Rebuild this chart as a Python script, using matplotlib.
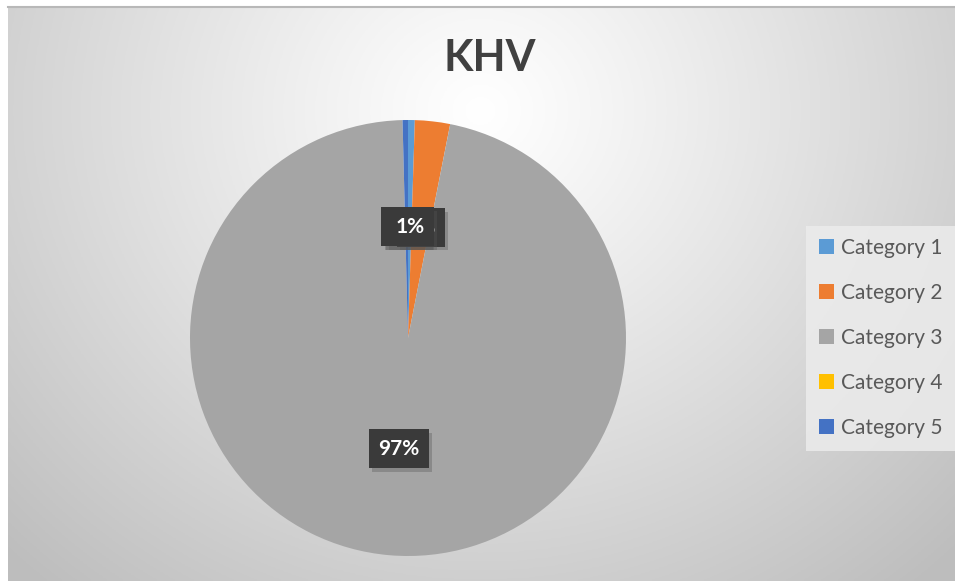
import numpy as np
import matplotlib
matplotlib.use("Agg")
import matplotlib.pyplot as plt
import matplotlib.patheffects as pe
from matplotlib.patches import Patch

title = "KHV"
categories = ["Category 1", "Category 2", "Category 3", "Category 4", "Category 5"]
values = [0.5, 2.6, 96.5, 0.0, 0.4]
colors = ["#5B9BD5", "#ED7D31", "#A5A5A5", "#FFC000", "#4472C4"]

W, H = 955, 581
fig = plt.figure(figsize=(W / 100, H / 100), dpi=100)
fig.patch.set_facecolor("white")

# background gradient panel
x0, y0 = 8, 7  # left / top white margin (px)
bg = fig.add_axes([x0 / W, 0, 1 - x0 / W, 1 - y0 / H])
bg.set_axis_off()
nx, ny = 300, 200
xx, yy = np.meshgrid(np.linspace(x0, W, nx), np.linspace(y0, H, ny))
cx, cy = 480, 110
d = np.sqrt(((xx - cx) / 560) ** 2 + ((yy - cy) / 520) ** 2)
g = 1.0 - 0.21 * np.clip(d, 0, 1.2) ** 1.1
img = np.dstack([g, g, g])
bg.imshow(img, extent=[0, 1, 0, 1], aspect="auto", origin="upper")
bg.set_xlim(0, 1)
bg.set_ylim(0, 1)
# top border line
fig.add_artist(plt.Line2D([x0 / W, 1], [1 - y0 / H, 1 - y0 / H], color="#b8b8b8", lw=1.5))

# pie
pcx, pcy, r = 408, 338, 218
ax = fig.add_axes([(pcx - r) / W, (H - pcy - r) / H, 2 * r / W, 2 * r / H])
ax.set_axis_off()


def fmt(p):
    return "%d%%" % int(p + 0.5)


wedges, texts, autotexts = ax.pie(
    values, colors=colors, startangle=90, counterclock=False,
    autopct=fmt, pctdistance=0.51, radius=1.0,
    wedgeprops=dict(linewidth=0),
)
ax.set_xlim(-1, 1)
ax.set_ylim(-1, 1)
ax.set_aspect("equal")

order_z = {0: 10, 1: 8, 2: 9, 3: 6, 4: 7}
for i, t in enumerate(autotexts):
    t.set_color("white")
    t.set_fontsize(15)
    t.set_fontweight("bold")
    t.set_fontfamily("Lato")
    t.set_zorder(order_z[i])
    t.set_bbox(dict(boxstyle="square,pad=0.45", facecolor="#3a3a3a", edgecolor="none"))
    t.get_bbox_patch().set_path_effects(
        [pe.SimplePatchShadow(offset=(2.5, -2.5), shadow_rgbFace="#555555", alpha=0.35), pe.Normal()])

# title
fig.text(490 / W, 1 - 58 / H, title, ha="center", va="center", fontsize=31,
         fontweight="bold", color="#404040", family="Lato")

# legend
handles = [Patch(facecolor=c, edgecolor="none") for c in colors]
leg = fig.legend(handles, categories, loc="center left",
                 bbox_to_anchor=(806 / W, 1 - 338 / H), frameon=True,
                 prop=dict(family="Lato", size=15), labelcolor="#595959",
                 handlelength=0.75, handleheight=0.75, handletextpad=0.35,
                 labelspacing=1.2, borderpad=0.6, borderaxespad=0.0, fancybox=False)
leg.get_frame().set_facecolor("#ececec")
leg.get_frame().set_edgecolor("none")
leg.get_frame().set_alpha(0.85)

fig.savefig("out.png", dpi=100)
